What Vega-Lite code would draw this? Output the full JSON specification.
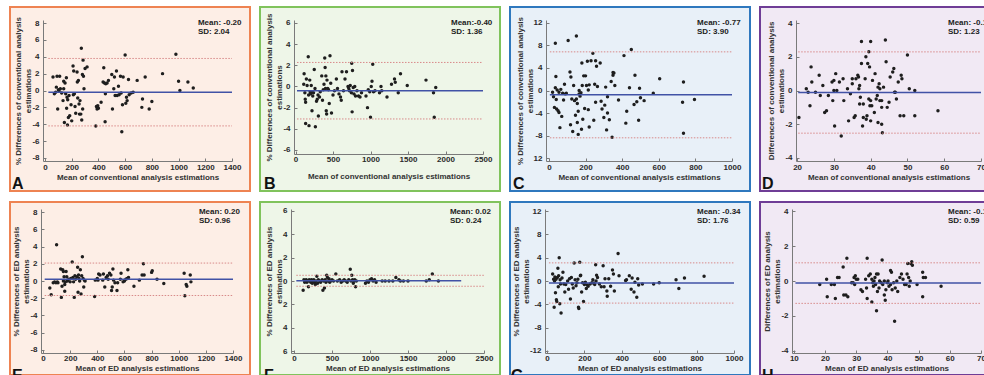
{
"$schema": "https://vega.github.io/schema/vega-lite/v6.json",
"background": "white",
"padding": {"left": 9, "top": 6, "right": 1, "bottom": 1},
"spacing": 9,
"config": {
 "font": "Liberation Sans",
 "axis": {"grid": false, "labelFont": "Liberation Sans", "labelFontSize": 8, "labelFontWeight": "bold", "labelColor": "#2a2a2a", "titleFont": "Liberation Sans", "titleFontSize": 8, "titleFontWeight": "bold", "titleColor": "#333333", "domainColor": "#7a7a7a", "tickColor": "#7a7a7a", "tickSize": -3, "domainWidth": 1, "labelPadding": 5, "titlePadding": 2, "labelFlush": false, "labelOverlap": false},
 "axisY": {"titlePadding": -1, "labelPadding": 7},
 "text": {"font": "Liberation Sans"},
 "concat": {"spacing": 8}
},
"datasets": {
 "stats": [
  {"p":"A","mean":-0.20,"up":3.80,"lo":-4.20,"note":"Mean: -0.20\nSD: 2.04","letter":"A"},
  {"p":"B","mean":-0.40,"up":2.27,"lo":-3.07,"note":"Mean:-0.40\nSD: 1.36","letter":"B"},
  {"p":"C","mean":-0.77,"up":6.87,"lo":-8.41,"note":"Mean: -0.77\nSD: 3.90","letter":"C"},
  {"p":"D","mean":-0.12,"up":2.29,"lo":-2.53,"note":"Mean: -0.12\nSD: 1.23","letter":"D"},
  {"p":"E","mean":0.20,"up":2.08,"lo":-1.68,"note":"Mean: 0.20\nSD: 0.96","letter":"E"},
  {"p":"F","mean":0.02,"up":0.49,"lo":-0.45,"note":"Mean: 0.02\nSD: 0.24","letter":"F"},
  {"p":"G","mean":-0.34,"up":3.11,"lo":-3.79,"note":"Mean: -0.34\nSD: 1.76","letter":"G"},
  {"p":"H","mean":-0.12,"up":1.04,"lo":-1.28,"note":"Mean: -0.12\nSD: 0.59","letter":"H"}
 ],
 "pA": [{"m":60,"d":1.6},{"m":70,"d":-0.4},{"m":80,"d":-0.2},{"m":85,"d":0.4},{"m":90,"d":1.7},{"m":95,"d":-2.2},{"m":100,"d":0.1},{"m":105,"d":-0.1},{"m":110,"d":1.7},{"m":115,"d":0.2},{"m":125,"d":-0.3},{"m":135,"d":-1.2},{"m":140,"d":1.1},{"m":140,"d":0.2},{"m":145,"d":-3.8},{"m":150,"d":0.9},{"m":155,"d":-0.4},{"m":160,"d":1.5},{"m":162,"d":-2.1},{"m":165,"d":-0.8},{"m":168,"d":-4.1},{"m":170,"d":-1.1},{"m":175,"d":-3.2},{"m":180,"d":-0.6},{"m":185,"d":-3.0},{"m":195,"d":-1.7},{"m":200,"d":-3.6},{"m":210,"d":2.9},{"m":212,"d":-0.5},{"m":215,"d":2.3},{"m":220,"d":-0.4},{"m":225,"d":-1.9},{"m":230,"d":-2.7},{"m":240,"d":2.2},{"m":242,"d":1.0},{"m":245,"d":-0.9},{"m":250,"d":1.2},{"m":255,"d":-1.6},{"m":258,"d":-2.8},{"m":262,"d":-1.2},{"m":268,"d":-2.8},{"m":272,"d":5.0},{"m":275,"d":-3.5},{"m":280,"d":1.9},{"m":282,"d":-2.2},{"m":285,"d":3.6},{"m":288,"d":1.7},{"m":292,"d":0.2},{"m":300,"d":2.6},{"m":315,"d":2.8},{"m":380,"d":-4.2},{"m":385,"d":-1.9},{"m":390,"d":-2.2},{"m":395,"d":-1.8},{"m":400,"d":-2.1},{"m":420,"d":-1.4},{"m":435,"d":1.0},{"m":440,"d":2.7},{"m":445,"d":0.9},{"m":450,"d":-3.7},{"m":452,"d":-0.4},{"m":455,"d":0.8},{"m":465,"d":0.9},{"m":475,"d":1.2},{"m":500,"d":1.9},{"m":505,"d":-2.2},{"m":515,"d":0.2},{"m":520,"d":1.6},{"m":525,"d":-0.6},{"m":535,"d":2.3},{"m":540,"d":-0.6},{"m":550,"d":0.5},{"m":555,"d":-0.5},{"m":565,"d":1.7},{"m":570,"d":-0.3},{"m":575,"d":-4.9},{"m":580,"d":-1.7},{"m":585,"d":1.6},{"m":600,"d":4.2},{"m":605,"d":-1.5},{"m":610,"d":-0.8},{"m":615,"d":-1.2},{"m":625,"d":1.3},{"m":630,"d":-0.5},{"m":645,"d":-0.3},{"m":660,"d":-0.2},{"m":690,"d":1.2},{"m":725,"d":-2.0},{"m":730,"d":-1.0},{"m":750,"d":1.6},{"m":780,"d":-2.2},{"m":800,"d":-1.3},{"m":880,"d":2.0},{"m":980,"d":4.3},{"m":1000,"d":1.1},{"m":1010,"d":0.0},{"m":1070,"d":1.0},{"m":1110,"d":0.3}],
 "pB": [{"m":110,"d":0.2},{"m":115,"d":1.2},{"m":125,"d":-0.6},{"m":130,"d":-1.2},{"m":135,"d":-1.5},{"m":135,"d":-3.5},{"m":145,"d":0.7},{"m":155,"d":0.1},{"m":170,"d":2.8},{"m":175,"d":-0.8},{"m":180,"d":-3.7},{"m":190,"d":0.6},{"m":195,"d":-0.5},{"m":200,"d":-0.7},{"m":210,"d":0.1},{"m":215,"d":-0.5},{"m":220,"d":-2.3},{"m":230,"d":-0.9},{"m":240,"d":-0.6},{"m":250,"d":1.6},{"m":260,"d":-0.2},{"m":265,"d":-3.8},{"m":280,"d":-1.4},{"m":290,"d":-1.2},{"m":300,"d":-0.8},{"m":305,"d":-2.8},{"m":320,"d":-1.0},{"m":330,"d":-0.5},{"m":350,"d":1.0},{"m":360,"d":-1.3},{"m":370,"d":-0.3},{"m":380,"d":0.2},{"m":390,"d":2.7},{"m":395,"d":1.8},{"m":400,"d":-0.2},{"m":405,"d":1.0},{"m":410,"d":-2.3},{"m":415,"d":-2.6},{"m":420,"d":0.6},{"m":430,"d":-0.2},{"m":440,"d":-0.3},{"m":450,"d":-1.6},{"m":460,"d":2.9},{"m":470,"d":0.3},{"m":480,"d":-2.5},{"m":500,"d":-0.8},{"m":520,"d":-0.4},{"m":545,"d":0.7},{"m":560,"d":-0.2},{"m":580,"d":-0.7},{"m":600,"d":-1.0},{"m":610,"d":-1.3},{"m":620,"d":1.4},{"m":640,"d":-0.4},{"m":660,"d":0.7},{"m":680,"d":1.4},{"m":700,"d":0.0},{"m":710,"d":-0.2},{"m":720,"d":-0.4},{"m":730,"d":0.1},{"m":745,"d":-0.6},{"m":750,"d":2.2},{"m":755,"d":-2.4},{"m":760,"d":1.5},{"m":770,"d":-0.1},{"m":780,"d":-0.7},{"m":790,"d":0.0},{"m":800,"d":-0.9},{"m":820,"d":-0.4},{"m":840,"d":-0.9},{"m":860,"d":-1.0},{"m":880,"d":-0.6},{"m":940,"d":-0.9},{"m":960,"d":-2.0},{"m":970,"d":-0.3},{"m":990,"d":-0.5},{"m":1000,"d":-2.9},{"m":1010,"d":0.0},{"m":1020,"d":0.5},{"m":1030,"d":2.1},{"m":1040,"d":-0.5},{"m":1060,"d":-0.4},{"m":1120,"d":-0.6},{"m":1140,"d":0.0},{"m":1150,"d":-0.4},{"m":1220,"d":-1.0},{"m":1280,"d":0.2},{"m":1320,"d":0.7},{"m":1330,"d":0.4},{"m":1370,"d":-0.6},{"m":1400,"d":1.2},{"m":1490,"d":0.1},{"m":1740,"d":0.6},{"m":1840,"d":-0.6},{"m":1850,"d":-2.9},{"m":1870,"d":-0.1}],
 "pC": [{"m":20,"d":-0.3},{"m":25,"d":-1.1},{"m":30,"d":-3.0},{"m":35,"d":8.4},{"m":35,"d":0.5},{"m":38,"d":2.5},{"m":40,"d":-1.6},{"m":42,"d":-3.3},{"m":45,"d":0.1},{"m":50,"d":-3.6},{"m":55,"d":-0.3},{"m":55,"d":-3.9},{"m":60,"d":-6.6},{"m":65,"d":0.2},{"m":70,"d":-4.6},{"m":75,"d":-0.5},{"m":80,"d":-1.7},{"m":85,"d":1.1},{"m":90,"d":-0.6},{"m":95,"d":-0.5},{"m":105,"d":8.9},{"m":115,"d":3.3},{"m":118,"d":-6.1},{"m":120,"d":2.4},{"m":125,"d":-1.5},{"m":130,"d":-7.3},{"m":135,"d":0.9},{"m":140,"d":-1.8},{"m":145,"d":-4.4},{"m":150,"d":9.7},{"m":150,"d":-1.5},{"m":155,"d":-5.7},{"m":155,"d":-2.3},{"m":160,"d":-7.8},{"m":160,"d":-3.7},{"m":165,"d":0.0},{"m":165,"d":-0.6},{"m":170,"d":-1.0},{"m":175,"d":-0.4},{"m":178,"d":-6.9},{"m":180,"d":4.9},{"m":182,"d":0.9},{"m":185,"d":-5.1},{"m":190,"d":2.6},{"m":195,"d":-3.2},{"m":200,"d":2.6},{"m":205,"d":0.9},{"m":210,"d":5.2},{"m":215,"d":-3.4},{"m":215,"d":0.1},{"m":220,"d":1.0},{"m":220,"d":-6.5},{"m":230,"d":5.3},{"m":240,"d":6.6},{"m":245,"d":-5.3},{"m":250,"d":1.1},{"m":255,"d":5.3},{"m":255,"d":-2.1},{"m":260,"d":4.3},{"m":265,"d":0.7},{"m":280,"d":4.9},{"m":285,"d":-1.9},{"m":290,"d":-3.3},{"m":300,"d":-4.8},{"m":305,"d":-2.6},{"m":310,"d":0.6},{"m":315,"d":-7.0},{"m":320,"d":-1.1},{"m":320,"d":-4.0},{"m":330,"d":-5.2},{"m":340,"d":1.6},{"m":345,"d":-8.3},{"m":350,"d":2.7},{"m":350,"d":3.2},{"m":355,"d":3.1},{"m":360,"d":0.9},{"m":380,"d":-1.7},{"m":410,"d":6.2},{"m":420,"d":-5.8},{"m":425,"d":-3.7},{"m":440,"d":0.5},{"m":450,"d":7.3},{"m":465,"d":-2.5},{"m":470,"d":2.7},{"m":480,"d":-2.0},{"m":490,"d":-5.3},{"m":495,"d":0.4},{"m":500,"d":-1.3},{"m":520,"d":-1.8},{"m":570,"d":-0.5},{"m":605,"d":2.1},{"m":730,"d":-2.1},{"m":735,"d":1.5},{"m":735,"d":-7.6},{"m":795,"d":-1.6}],
 "pD": [{"m":20.5,"d":-1.6},{"m":22.5,"d":0.1},{"m":23,"d":-0.1},{"m":23.5,"d":-0.9},{"m":23.8,"d":1.4},{"m":24,"d":0.5},{"m":25,"d":-0.1},{"m":26,"d":0.9},{"m":26.3,"d":-0.3},{"m":27,"d":0.3},{"m":27.5,"d":-1.3},{"m":28,"d":-1.2},{"m":28.5,"d":-0.3},{"m":29.5,"d":0.5},{"m":29.7,"d":-0.6},{"m":30,"d":0.6},{"m":30,"d":0.0},{"m":30.2,"d":-2.1},{"m":30.5,"d":1.0},{"m":30.8,"d":0.0},{"m":31.5,"d":0.5},{"m":32,"d":-2.7},{"m":32.5,"d":0.7},{"m":32.7,"d":-0.6},{"m":33.7,"d":0.1},{"m":34,"d":-1.8},{"m":34.5,"d":-0.2},{"m":35,"d":0.4},{"m":35,"d":0.7},{"m":35.5,"d":-1.6},{"m":35.8,"d":-1.5},{"m":36,"d":0.7},{"m":36.5,"d":0.9},{"m":36.7,"d":0.8},{"m":36.8,"d":0.1},{"m":37,"d":0.3},{"m":37,"d":-0.8},{"m":37.2,"d":-0.4},{"m":37.5,"d":2.9},{"m":37.5,"d":1.6},{"m":37.8,"d":-2.1},{"m":38,"d":-1.6},{"m":38,"d":-0.8},{"m":38.5,"d":0.7},{"m":38.7,"d":2.0},{"m":38.8,"d":-1.7},{"m":39,"d":-1.5},{"m":39.2,"d":1.6},{"m":39.5,"d":2.3},{"m":39.5,"d":-0.5},{"m":39.7,"d":1.4},{"m":39.8,"d":-0.9},{"m":40,"d":-1.8},{"m":40,"d":2.9},{"m":40,"d":-0.6},{"m":40.3,"d":-0.9},{"m":40.5,"d":0.6},{"m":41,"d":-1.3},{"m":41.2,"d":1.0},{"m":41.5,"d":-0.5},{"m":41.8,"d":-0.3},{"m":42,"d":-1.9},{"m":42,"d":0.2},{"m":42.3,"d":0.4},{"m":42.5,"d":0.1},{"m":42.5,"d":-0.6},{"m":43,"d":-1.0},{"m":43,"d":-2.0},{"m":43,"d":-0.6},{"m":43.2,"d":-2.5},{"m":43.5,"d":0.2},{"m":44,"d":3.0},{"m":44.2,"d":1.7},{"m":44.5,"d":-1.0},{"m":45,"d":-0.7},{"m":45.3,"d":0.8},{"m":46,"d":1.1},{"m":46.3,"d":1.3},{"m":46.5,"d":-0.1},{"m":46.7,"d":-0.1},{"m":47,"d":-0.5},{"m":47.5,"d":0.5},{"m":48,"d":-1.5},{"m":48.3,"d":0.9},{"m":48.5,"d":0.7},{"m":49,"d":-1.5},{"m":50,"d":2.1},{"m":50.5,"d":0.1},{"m":52,"d":0.0},{"m":52,"d":-1.5},{"m":58.3,"d":-1.2}],
 "pE": [{"m":50,"d":-0.8},{"m":60,"d":-1.6},{"m":75,"d":-0.2},{"m":85,"d":-0.1},{"m":95,"d":-0.2},{"m":100,"d":4.2},{"m":105,"d":-0.1},{"m":110,"d":-0.2},{"m":130,"d":1.4},{"m":135,"d":-1.9},{"m":140,"d":-0.6},{"m":145,"d":1.3},{"m":150,"d":0.0},{"m":150,"d":1.1},{"m":155,"d":0.5},{"m":160,"d":-0.4},{"m":160,"d":-1.2},{"m":165,"d":-0.1},{"m":170,"d":1.1},{"m":175,"d":0.5},{"m":180,"d":0.0},{"m":190,"d":0.2},{"m":200,"d":-0.1},{"m":205,"d":0.3},{"m":215,"d":2.2},{"m":220,"d":0.4},{"m":225,"d":-0.1},{"m":230,"d":-1.9},{"m":235,"d":0.6},{"m":240,"d":0.2},{"m":250,"d":0.5},{"m":255,"d":1.6},{"m":258,"d":-1.3},{"m":262,"d":0.7},{"m":265,"d":0.3},{"m":270,"d":0.0},{"m":275,"d":1.3},{"m":280,"d":-1.5},{"m":285,"d":0.6},{"m":290,"d":2.8},{"m":295,"d":0.3},{"m":300,"d":-0.7},{"m":305,"d":0.1},{"m":310,"d":0.0},{"m":380,"d":-1.8},{"m":385,"d":0.1},{"m":400,"d":0.3},{"m":405,"d":0.1},{"m":410,"d":0.8},{"m":420,"d":0.7},{"m":440,"d":0.1},{"m":445,"d":0.8},{"m":455,"d":-0.7},{"m":465,"d":0.4},{"m":475,"d":0.6},{"m":480,"d":0.2},{"m":490,"d":0.9},{"m":500,"d":0.7},{"m":505,"d":-1.1},{"m":510,"d":-0.7},{"m":515,"d":1.4},{"m":520,"d":0.1},{"m":530,"d":-0.2},{"m":545,"d":-1.1},{"m":550,"d":-0.2},{"m":570,"d":0.2},{"m":575,"d":0.9},{"m":590,"d":-0.1},{"m":600,"d":0.0},{"m":610,"d":0.2},{"m":620,"d":0.3},{"m":625,"d":1.3},{"m":630,"d":0.4},{"m":670,"d":-0.6},{"m":710,"d":0.1},{"m":730,"d":0.7},{"m":740,"d":2.0},{"m":745,"d":0.7},{"m":800,"d":1.0},{"m":805,"d":1.2},{"m":840,"d":0.2},{"m":890,"d":-0.3},{"m":1040,"d":0.9},{"m":1045,"d":-1.7},{"m":1055,"d":-0.4},{"m":1060,"d":-0.6},{"m":1085,"d":0.7},{"m":1090,"d":-0.1}],
 "pF": [{"m":120,"d":-0.8},{"m":130,"d":0.1},{"m":140,"d":-0.1},{"m":150,"d":0.0},{"m":160,"d":0.1},{"m":170,"d":-0.1},{"m":180,"d":0.0},{"m":190,"d":-0.5},{"m":200,"d":0.1},{"m":210,"d":0.0},{"m":220,"d":-0.1},{"m":230,"d":0.1},{"m":240,"d":-0.2},{"m":250,"d":0.0},{"m":260,"d":0.1},{"m":270,"d":-0.1},{"m":280,"d":-0.3},{"m":290,"d":0.0},{"m":300,"d":0.4},{"m":310,"d":-0.2},{"m":320,"d":0.1},{"m":340,"d":0.0},{"m":350,"d":-0.1},{"m":370,"d":0.1},{"m":380,"d":-0.8},{"m":390,"d":0.0},{"m":400,"d":-0.6},{"m":410,"d":0.1},{"m":420,"d":-0.1},{"m":430,"d":0.5},{"m":440,"d":0.3},{"m":450,"d":0.0},{"m":460,"d":0.2},{"m":470,"d":-0.1},{"m":480,"d":0.0},{"m":500,"d":0.1},{"m":520,"d":0.0},{"m":550,"d":0.6},{"m":570,"d":0.0},{"m":600,"d":0.1},{"m":620,"d":-0.1},{"m":640,"d":0.0},{"m":660,"d":0.1},{"m":680,"d":0.0},{"m":700,"d":-0.1},{"m":720,"d":0.1},{"m":740,"d":1.0},{"m":750,"d":0.0},{"m":760,"d":0.5},{"m":770,"d":0.1},{"m":780,"d":-0.2},{"m":790,"d":0.0},{"m":800,"d":0.1},{"m":810,"d":-0.5},{"m":820,"d":0.0},{"m":940,"d":-0.2},{"m":960,"d":0.0},{"m":980,"d":-0.1},{"m":1000,"d":0.1},{"m":1020,"d":0.2},{"m":1040,"d":0.0},{"m":1060,"d":0.1},{"m":1080,"d":-0.1},{"m":1160,"d":0.0},{"m":1200,"d":0.0},{"m":1250,"d":0.0},{"m":1300,"d":0.0},{"m":1340,"d":0.3},{"m":1380,"d":0.1},{"m":1400,"d":0.0},{"m":1440,"d":0.0},{"m":1500,"d":0.0},{"m":1740,"d":0.0},{"m":1780,"d":0.1},{"m":1820,"d":0.6},{"m":1900,"d":0.0}],
 "pG": [{"m":30,"d":1.2},{"m":35,"d":0.3},{"m":38,"d":-4.5},{"m":40,"d":0.0},{"m":42,"d":0.7},{"m":45,"d":-2.0},{"m":48,"d":0.3},{"m":50,"d":-3.2},{"m":52,"d":-3.5},{"m":55,"d":0.6},{"m":58,"d":2.2},{"m":60,"d":-1.0},{"m":62,"d":0.9},{"m":65,"d":4.0},{"m":68,"d":-3.9},{"m":70,"d":0.2},{"m":72,"d":-0.5},{"m":75,"d":-5.5},{"m":80,"d":0.5},{"m":85,"d":1.5},{"m":90,"d":-0.5},{"m":95,"d":-1.9},{"m":100,"d":-0.6},{"m":110,"d":0.0},{"m":115,"d":-1.4},{"m":120,"d":0.4},{"m":125,"d":-3.1},{"m":130,"d":0.6},{"m":135,"d":-0.5},{"m":140,"d":-1.2},{"m":145,"d":3.1},{"m":150,"d":0.2},{"m":155,"d":-0.8},{"m":160,"d":-0.3},{"m":165,"d":0.3},{"m":168,"d":-4.5},{"m":170,"d":-4.7},{"m":175,"d":3.2},{"m":178,"d":0.9},{"m":180,"d":1.0},{"m":185,"d":-1.9},{"m":190,"d":-0.3},{"m":195,"d":-3.5},{"m":200,"d":-0.6},{"m":205,"d":-0.2},{"m":210,"d":-1.3},{"m":215,"d":-0.7},{"m":220,"d":-0.9},{"m":230,"d":-0.5},{"m":240,"d":-0.3},{"m":245,"d":0.2},{"m":250,"d":-0.4},{"m":255,"d":-0.6},{"m":260,"d":2.8},{"m":262,"d":0.0},{"m":265,"d":1.0},{"m":270,"d":0.6},{"m":280,"d":-0.5},{"m":290,"d":-1.0},{"m":300,"d":2.6},{"m":305,"d":-1.0},{"m":310,"d":0.4},{"m":320,"d":-1.7},{"m":322,"d":-2.6},{"m":330,"d":0.4},{"m":340,"d":-0.9},{"m":350,"d":1.9},{"m":355,"d":1.2},{"m":360,"d":-1.7},{"m":380,"d":4.7},{"m":385,"d":0.9},{"m":420,"d":0.1},{"m":425,"d":0.2},{"m":440,"d":0.9},{"m":450,"d":-1.4},{"m":455,"d":0.5},{"m":465,"d":-1.9},{"m":470,"d":-0.2},{"m":480,"d":-2.8},{"m":485,"d":0.4},{"m":490,"d":-0.7},{"m":510,"d":-0.5},{"m":570,"d":-0.5},{"m":600,"d":-0.3},{"m":690,"d":0.2},{"m":705,"d":-1.3},{"m":735,"d":0.5},{"m":840,"d":0.8}],
 "pH": [{"m":18.3,"d":-0.2},{"m":20.5,"d":0.1},{"m":20.7,"d":-0.9},{"m":22,"d":-0.2},{"m":23,"d":-0.2},{"m":23.3,"d":-1.0},{"m":24,"d":0.2},{"m":24.5,"d":0.2},{"m":25.8,"d":0.8},{"m":26,"d":-0.8},{"m":26.7,"d":-0.8},{"m":27,"d":1.3},{"m":27.3,"d":-0.9},{"m":28.5,"d":-0.1},{"m":29,"d":-0.1},{"m":29.3,"d":0.2},{"m":29.5,"d":-0.2},{"m":29.7,"d":0.3},{"m":30,"d":0.1},{"m":30.5,"d":0.1},{"m":31.5,"d":-0.5},{"m":32,"d":-0.6},{"m":33,"d":0.1},{"m":33.3,"d":-0.4},{"m":33.5,"d":1.3},{"m":33.5,"d":-1.0},{"m":34,"d":0.3},{"m":34.5,"d":0.4},{"m":35,"d":-1.2},{"m":35,"d":0.1},{"m":35.3,"d":-0.1},{"m":35.5,"d":-0.3},{"m":35.7,"d":0.0},{"m":36,"d":0.2},{"m":36.2,"d":-0.2},{"m":36.5,"d":-1.7},{"m":36.5,"d":0.4},{"m":36.8,"d":-0.6},{"m":37,"d":0.4},{"m":37.3,"d":-0.4},{"m":37.5,"d":0.0},{"m":38,"d":-0.1},{"m":38.3,"d":1.2},{"m":38.5,"d":-0.2},{"m":39,"d":-0.8},{"m":39,"d":0.0},{"m":39.3,"d":-1.1},{"m":39.5,"d":-0.5},{"m":40,"d":-0.1},{"m":40.2,"d":0.0},{"m":40.5,"d":-0.3},{"m":41,"d":0.6},{"m":41,"d":-0.2},{"m":41.3,"d":0.5},{"m":41.5,"d":-0.5},{"m":42,"d":-0.1},{"m":42.3,"d":-2.3},{"m":42.5,"d":-0.4},{"m":43,"d":0.0},{"m":43.3,"d":-0.6},{"m":44,"d":0.2},{"m":44.5,"d":0.4},{"m":45,"d":0.1},{"m":45.5,"d":-0.2},{"m":46,"d":-0.2},{"m":46.3,"d":0.4},{"m":46.5,"d":1.0},{"m":46.8,"d":0.2},{"m":47,"d":-0.3},{"m":47.3,"d":0.0},{"m":47.5,"d":1.0},{"m":47.8,"d":1.1},{"m":48,"d":0.9},{"m":49.5,"d":-0.2},{"m":51.3,"d":0.5},{"m":51.3,"d":-0.9},{"m":51.5,"d":0.2},{"m":52.2,"d":0.2},{"m":57.2,"d":-0.3}]
},
"vconcat": [
 {"hconcat": [
  {"width": 240, "height": 184,
   "view": {"fill": "#fdeee6", "stroke": "#ee8352", "strokeWidth": 2},
   "layer": [
    {"data": {"name": "pA"}, "mark": {"type": "circle", "size": 12, "color": "#1e1e1e", "opacity": 1},
     "encoding": {
      "x": {"field": "m", "type": "quantitative", "scale": {"domain": [-15, 1400], "range": [33, 222], "nice": false, "zero": false}, "axis": {"values": [0,200,400,600,800,1000,1200,1400], "tickCount": 30, "labelOverlap": false, "labelExpr": "'' + datum.value", "offset": -30, "title": "Mean of conventional analysis estimations"}},
      "y": {"field": "d", "type": "quantitative", "scale": {"domain": [-8.36, 8.36], "range": [154, 13], "nice": false, "zero": false}, "axis": {"values": [-8,-6,-4,-2,0,2,4,6,8], "tickCount": 30, "labelOverlap": false, "labelExpr": "'' + datum.value", "offset": -33, "title": ["% Differences of conventional analysis", "estimations"]}}}},
    {"data": {"name": "stats"}, "transform": [{"filter": "datum.p == 'A'"}], "mark": {"type": "rule", "color": "#d88a8a", "strokeWidth": 1, "strokeDash": [1.5, 1.5]}, "encoding": {"x": {"datum": 25, "type": "quantitative"}, "x2": {"datum": 1400}, "y": {"field": "up", "type": "quantitative"}}},
    {"data": {"name": "stats"}, "transform": [{"filter": "datum.p == 'A'"}], "mark": {"type": "rule", "color": "#d88a8a", "strokeWidth": 1, "strokeDash": [1.5, 1.5]}, "encoding": {"x": {"datum": 25, "type": "quantitative"}, "x2": {"datum": 1400}, "y": {"field": "lo", "type": "quantitative"}}},
    {"data": {"name": "stats"}, "transform": [{"filter": "datum.p == 'A'"}], "mark": {"type": "rule", "color": "#4152a6", "strokeWidth": 1.5}, "encoding": {"x": {"datum": 25, "type": "quantitative"}, "x2": {"datum": 1400}, "y": {"field": "mean", "type": "quantitative"}}},
    {"data": {"name": "stats"}, "transform": [{"filter": "datum.p == 'A'"}], "mark": {"type": "text", "align": "left", "baseline": "top", "lineBreak": "\n", "lineHeight": 9, "fontSize": 8, "fontWeight": "bold", "color": "#222222", "clip": true}, "encoding": {"text": {"field": "note"}, "x": {"datum": 1145, "type": "quantitative"}, "y": {"datum": 8.48, "type": "quantitative"}}},
    {"data": {"name": "stats"}, "transform": [{"filter": "datum.p == 'A'"}], "mark": {"type": "text", "align": "left", "baseline": "alphabetic", "fontSize": 16, "fontWeight": "bold", "color": "#111111", "clip": true}, "encoding": {"text": {"field": "letter"}, "x": {"datum": -247, "type": "quantitative"}, "y": {"datum": -11.68, "type": "quantitative"}}}
   ]},
  {"width": 240, "height": 184,
   "view": {"fill": "#eef6e8", "stroke": "#80c35c", "strokeWidth": 2},
   "layer": [
    {"data": {"name": "pB"}, "mark": {"type": "circle", "size": 12, "color": "#1e1e1e", "opacity": 1},
     "encoding": {
      "x": {"field": "m", "type": "quantitative", "scale": {"domain": [-20, 2500], "range": [34, 223], "nice": false, "zero": false}, "axis": {"values": [0,500,1000,1500,2000,2500], "tickCount": 30, "labelOverlap": false, "labelExpr": "'' + datum.value", "offset": -37, "labelPadding": 4, "titlePadding": 9, "title": "Mean of conventional analysis estimations"}},
      "y": {"field": "d", "type": "quantitative", "scale": {"domain": [-6.38, 6.28], "range": [147, 13], "nice": false, "zero": false}, "axis": {"values": [-6,-4,-2,0,2,4,6], "tickCount": 30, "labelOverlap": false, "labelExpr": "'' + datum.value", "offset": -34, "title": ["% Differences of conventional analysis", "estimations"]}}}},
    {"data": {"name": "stats"}, "transform": [{"filter": "datum.p == 'B'"}], "mark": {"type": "rule", "color": "#d88a8a", "strokeWidth": 1, "strokeDash": [1.5, 1.5]}, "encoding": {"x": {"datum": 20, "type": "quantitative"}, "x2": {"datum": 2500}, "y": {"field": "up", "type": "quantitative"}}},
    {"data": {"name": "stats"}, "transform": [{"filter": "datum.p == 'B'"}], "mark": {"type": "rule", "color": "#d88a8a", "strokeWidth": 1, "strokeDash": [1.5, 1.5]}, "encoding": {"x": {"datum": 20, "type": "quantitative"}, "x2": {"datum": 2500}, "y": {"field": "lo", "type": "quantitative"}}},
    {"data": {"name": "stats"}, "transform": [{"filter": "datum.p == 'B'"}], "mark": {"type": "rule", "color": "#4152a6", "strokeWidth": 1.5}, "encoding": {"x": {"datum": 20, "type": "quantitative"}, "x2": {"datum": 2500}, "y": {"field": "mean", "type": "quantitative"}}},
    {"data": {"name": "stats"}, "transform": [{"filter": "datum.p == 'B'"}], "mark": {"type": "text", "align": "left", "baseline": "top", "lineBreak": "\n", "lineHeight": 9, "fontSize": 8, "fontWeight": "bold", "color": "#222222", "clip": true}, "encoding": {"text": {"field": "note"}, "x": {"datum": 2073, "type": "quantitative"}, "y": {"datum": 6.375, "type": "quantitative"}}},
    {"data": {"name": "stats"}, "transform": [{"filter": "datum.p == 'B'"}], "mark": {"type": "text", "align": "left", "baseline": "alphabetic", "fontSize": 16, "fontWeight": "bold", "color": "#111111", "clip": true}, "encoding": {"text": {"field": "letter"}, "x": {"datum": -420, "type": "quantitative"}, "y": {"datum": -9.69, "type": "quantitative"}}}
   ]},
  {"width": 240, "height": 184,
   "view": {"fill": "#e8f0f8", "stroke": "#2f78be", "strokeWidth": 2},
   "layer": [
    {"data": {"name": "pC"}, "mark": {"type": "circle", "size": 12, "color": "#1e1e1e", "opacity": 1},
     "encoding": {
      "x": {"field": "m", "type": "quantitative", "scale": {"domain": [-16, 1000], "range": [36, 222], "nice": false, "zero": false}, "axis": {"values": [0,200,400,600,800,1000], "tickCount": 30, "labelOverlap": false, "labelExpr": "'' + datum.value", "offset": -30, "title": "Mean of conventional analysis estimations"}},
      "y": {"field": "d", "type": "quantitative", "scale": {"domain": [-12.53, 12.53], "range": [154, 13], "nice": false, "zero": false}, "axis": {"values": [-12,-8,-4,0,4,8,12], "tickCount": 30, "labelOverlap": false, "labelExpr": "datum.value == -12 ? '12' : '' + datum.value", "offset": -36, "title": ["% Differences of conventional analysis", "estimations"]}}}},
    {"data": {"name": "stats"}, "transform": [{"filter": "datum.p == 'C'"}], "mark": {"type": "rule", "color": "#d88a8a", "strokeWidth": 1, "strokeDash": [1.5, 1.5]}, "encoding": {"x": {"datum": 5, "type": "quantitative"}, "x2": {"datum": 1000}, "y": {"field": "up", "type": "quantitative"}}},
    {"data": {"name": "stats"}, "transform": [{"filter": "datum.p == 'C'"}], "mark": {"type": "rule", "color": "#d88a8a", "strokeWidth": 1, "strokeDash": [1.5, 1.5]}, "encoding": {"x": {"datum": 5, "type": "quantitative"}, "x2": {"datum": 1000}, "y": {"field": "lo", "type": "quantitative"}}},
    {"data": {"name": "stats"}, "transform": [{"filter": "datum.p == 'C'"}], "mark": {"type": "rule", "color": "#4152a6", "strokeWidth": 1.5}, "encoding": {"x": {"datum": 5, "type": "quantitative"}, "x2": {"datum": 1000}, "y": {"field": "mean", "type": "quantitative"}}},
    {"data": {"name": "stats"}, "transform": [{"filter": "datum.p == 'C'"}], "mark": {"type": "text", "align": "left", "baseline": "top", "lineBreak": "\n", "lineHeight": 9, "fontSize": 8, "fontWeight": "bold", "color": "#222222", "clip": true}, "encoding": {"text": {"field": "note"}, "x": {"datum": 809, "type": "quantitative"}, "y": {"datum": 12.71, "type": "quantitative"}}},
    {"data": {"name": "stats"}, "transform": [{"filter": "datum.p == 'C'"}], "mark": {"type": "text", "align": "left", "baseline": "alphabetic", "fontSize": 16, "fontWeight": "bold", "color": "#111111", "clip": true}, "encoding": {"text": {"field": "letter"}, "x": {"datum": -196, "type": "quantitative"}, "y": {"datum": -17.51, "type": "quantitative"}}}
   ]},
  {"width": 228, "height": 184,
   "view": {"fill": "#f1e9f4", "stroke": "#6f3d96", "strokeWidth": 2},
   "layer": [
    {"data": {"name": "pD"}, "mark": {"type": "circle", "size": 12, "color": "#1e1e1e", "opacity": 1},
     "encoding": {
      "x": {"field": "m", "type": "quantitative", "scale": {"domain": [19.7, 70], "range": [36, 221], "nice": false, "zero": false}, "axis": {"values": [20,30,40,50,60,70], "tickCount": 30, "labelOverlap": false, "labelExpr": "'' + datum.value", "offset": -30, "title": "Mean of conventional analysis estimations"}},
      "y": {"field": "d", "type": "quantitative", "scale": {"domain": [-4.18, 4.18], "range": [154, 13], "nice": false, "zero": false}, "axis": {"values": [-4,-2,0,2,4], "tickCount": 30, "labelOverlap": false, "labelExpr": "'' + datum.value", "offset": -36, "title": ["Differences of conventional analysis", "estimations"]}}}},
    {"data": {"name": "stats"}, "transform": [{"filter": "datum.p == 'D'"}], "mark": {"type": "rule", "color": "#d88a8a", "strokeWidth": 1, "strokeDash": [1.5, 1.5]}, "encoding": {"x": {"datum": 20.3, "type": "quantitative"}, "x2": {"datum": 70}, "y": {"field": "up", "type": "quantitative"}}},
    {"data": {"name": "stats"}, "transform": [{"filter": "datum.p == 'D'"}], "mark": {"type": "rule", "color": "#d88a8a", "strokeWidth": 1, "strokeDash": [1.5, 1.5]}, "encoding": {"x": {"datum": 20.3, "type": "quantitative"}, "x2": {"datum": 70}, "y": {"field": "lo", "type": "quantitative"}}},
    {"data": {"name": "stats"}, "transform": [{"filter": "datum.p == 'D'"}], "mark": {"type": "rule", "color": "#4152a6", "strokeWidth": 1.5}, "encoding": {"x": {"datum": 20.3, "type": "quantitative"}, "x2": {"datum": 70}, "y": {"field": "mean", "type": "quantitative"}}},
    {"data": {"name": "stats"}, "transform": [{"filter": "datum.p == 'D'"}], "mark": {"type": "text", "align": "left", "baseline": "top", "lineBreak": "\n", "lineHeight": 9, "fontSize": 8, "fontWeight": "bold", "color": "#222222", "clip": true}, "encoding": {"text": {"field": "note"}, "x": {"datum": 61.03, "type": "quantitative"}, "y": {"datum": 4.24, "type": "quantitative"}}},
    {"data": {"name": "stats"}, "transform": [{"filter": "datum.p == 'D'"}], "mark": {"type": "text", "align": "left", "baseline": "alphabetic", "fontSize": 16, "fontWeight": "bold", "color": "#111111", "clip": true}, "encoding": {"text": {"field": "letter"}, "x": {"datum": 10.46, "type": "quantitative"}, "y": {"datum": -5.84, "type": "quantitative"}}}
   ]}
 ]},
 {"hconcat": [
  {"width": 240, "height": 173,
   "view": {"fill": "#fdeee6", "stroke": "#ee8352", "strokeWidth": 2},
   "layer": [
    {"data": {"name": "pE"}, "mark": {"type": "circle", "size": 12, "color": "#1e1e1e", "opacity": 1},
     "encoding": {
      "x": {"field": "m", "type": "quantitative", "scale": {"domain": [-15, 1400], "range": [31, 223], "nice": false, "zero": false}, "axis": {"values": [0,200,400,600,800,1000,1200,1400], "tickCount": 30, "labelOverlap": false, "labelExpr": "'' + datum.value", "offset": -22, "labelPadding": 4, "title": "Mean of ED analysis estimations"}},
      "y": {"field": "d", "type": "quantitative", "scale": {"domain": [-8.35, 8.35], "range": [151, 7], "nice": false, "zero": false}, "axis": {"values": [-8,-6,-4,-2,0,2,4,6,8], "tickCount": 30, "labelOverlap": false, "labelExpr": "'' + datum.value", "offset": -31, "title": ["% Differences of ED analysis", "estimations"]}}}},
    {"data": {"name": "stats"}, "transform": [{"filter": "datum.p == 'E'"}], "mark": {"type": "rule", "color": "#d88a8a", "strokeWidth": 1, "strokeDash": [1.5, 1.5]}, "encoding": {"x": {"datum": 12, "type": "quantitative"}, "x2": {"datum": 1400}, "y": {"field": "up", "type": "quantitative"}}},
    {"data": {"name": "stats"}, "transform": [{"filter": "datum.p == 'E'"}], "mark": {"type": "rule", "color": "#d88a8a", "strokeWidth": 1, "strokeDash": [1.5, 1.5]}, "encoding": {"x": {"datum": 12, "type": "quantitative"}, "x2": {"datum": 1400}, "y": {"field": "lo", "type": "quantitative"}}},
    {"data": {"name": "stats"}, "transform": [{"filter": "datum.p == 'E'"}], "mark": {"type": "rule", "color": "#4152a6", "strokeWidth": 1.5}, "encoding": {"x": {"datum": 12, "type": "quantitative"}, "x2": {"datum": 1400}, "y": {"field": "mean", "type": "quantitative"}}},
    {"data": {"name": "stats"}, "transform": [{"filter": "datum.p == 'E'"}], "mark": {"type": "text", "align": "left", "baseline": "top", "lineBreak": "\n", "lineHeight": 9, "fontSize": 8, "fontWeight": "bold", "color": "#222222", "clip": true}, "encoding": {"text": {"field": "note"}, "x": {"datum": 1149, "type": "quantitative"}, "y": {"datum": 8.47, "type": "quantitative"}}},
    {"data": {"name": "stats"}, "transform": [{"filter": "datum.p == 'E'"}], "mark": {"type": "text", "align": "left", "baseline": "alphabetic", "fontSize": 16, "fontWeight": "bold", "color": "#111111", "clip": true}, "encoding": {"text": {"field": "letter"}, "x": {"datum": -229, "type": "quantitative"}, "y": {"datum": -11.6, "type": "quantitative"}}}
   ]},
  {"width": 240, "height": 173,
   "view": {"fill": "#eef6e8", "stroke": "#80c35c", "strokeWidth": 2},
   "layer": [
    {"data": {"name": "pF"}, "mark": {"type": "circle", "size": 12, "color": "#1e1e1e", "opacity": 1},
     "encoding": {
      "x": {"field": "m", "type": "quantitative", "scale": {"domain": [-40, 2500], "range": [31, 224], "nice": false, "zero": false}, "axis": {"values": [0,500,1000,1500,2000,2500], "tickCount": 30, "labelOverlap": false, "labelExpr": "'' + datum.value", "offset": -22, "labelPadding": 4, "title": "Mean of ED analysis estimations"}},
      "y": {"field": "d", "type": "quantitative", "scale": {"domain": [-6.17, 6.17], "range": [151, 7], "nice": false, "zero": false}, "axis": {"values": [-6,-4,-2,0,2,4,6], "tickCount": 30, "labelOverlap": false, "labelExpr": "'' + abs(datum.value)", "offset": -31, "title": ["% Differences of ED analysis", "estimations"]}}}},
    {"data": {"name": "stats"}, "transform": [{"filter": "datum.p == 'F'"}], "mark": {"type": "rule", "color": "#d88a8a", "strokeWidth": 1, "strokeDash": [1.5, 1.5]}, "encoding": {"x": {"datum": 30, "type": "quantitative"}, "x2": {"datum": 2500}, "y": {"field": "up", "type": "quantitative"}}},
    {"data": {"name": "stats"}, "transform": [{"filter": "datum.p == 'F'"}], "mark": {"type": "rule", "color": "#d88a8a", "strokeWidth": 1, "strokeDash": [1.5, 1.5]}, "encoding": {"x": {"datum": 30, "type": "quantitative"}, "x2": {"datum": 2500}, "y": {"field": "lo", "type": "quantitative"}}},
    {"data": {"name": "stats"}, "transform": [{"filter": "datum.p == 'F'"}], "mark": {"type": "rule", "color": "#4152a6", "strokeWidth": 1.5}, "encoding": {"x": {"datum": 30, "type": "quantitative"}, "x2": {"datum": 2200}, "y": {"field": "mean", "type": "quantitative"}}},
    {"data": {"name": "stats"}, "transform": [{"filter": "datum.p == 'F'"}], "mark": {"type": "text", "align": "left", "baseline": "top", "lineBreak": "\n", "lineHeight": 9, "fontSize": 8, "fontWeight": "bold", "color": "#222222", "clip": true}, "encoding": {"text": {"field": "note"}, "x": {"datum": 2052, "type": "quantitative"}, "y": {"datum": 6.255, "type": "quantitative"}}},
    {"data": {"name": "stats"}, "transform": [{"filter": "datum.p == 'F'"}], "mark": {"type": "text", "align": "left", "baseline": "alphabetic", "fontSize": 16, "fontWeight": "bold", "color": "#111111", "clip": true}, "encoding": {"text": {"field": "letter"}, "x": {"datum": -395, "type": "quantitative"}, "y": {"datum": -8.57, "type": "quantitative"}}}
   ]},
  {"width": 240, "height": 173,
   "view": {"fill": "#e8f0f8", "stroke": "#2f78be", "strokeWidth": 2},
   "layer": [
    {"data": {"name": "pG"}, "mark": {"type": "circle", "size": 12, "color": "#1e1e1e", "opacity": 1},
     "encoding": {
      "x": {"field": "m", "type": "quantitative", "scale": {"domain": [-11, 1000], "range": [35, 224], "nice": false, "zero": false}, "axis": {"values": [0,200,400,600,800,1000], "tickCount": 30, "labelOverlap": false, "labelExpr": "'' + datum.value", "offset": -22, "labelPadding": 4, "title": "Mean of ED analysis estimations"}},
      "y": {"field": "d", "type": "quantitative", "scale": {"domain": [-12.35, 12.35], "range": [151, 7], "nice": false, "zero": false}, "axis": {"values": [-12,-8,-4,0,4,8,12], "tickCount": 30, "labelOverlap": false, "labelExpr": "'' + datum.value", "offset": -35, "title": ["% Differences of ED analysis", "estimations"]}}}},
    {"data": {"name": "stats"}, "transform": [{"filter": "datum.p == 'G'"}], "mark": {"type": "rule", "color": "#d88a8a", "strokeWidth": 1, "strokeDash": [1.5, 1.5]}, "encoding": {"x": {"datum": 10, "type": "quantitative"}, "x2": {"datum": 1000}, "y": {"field": "up", "type": "quantitative"}}},
    {"data": {"name": "stats"}, "transform": [{"filter": "datum.p == 'G'"}], "mark": {"type": "rule", "color": "#d88a8a", "strokeWidth": 1, "strokeDash": [1.5, 1.5]}, "encoding": {"x": {"datum": 10, "type": "quantitative"}, "x2": {"datum": 1000}, "y": {"field": "lo", "type": "quantitative"}}},
    {"data": {"name": "stats"}, "transform": [{"filter": "datum.p == 'G'"}], "mark": {"type": "rule", "color": "#4152a6", "strokeWidth": 1.5}, "encoding": {"x": {"datum": 10, "type": "quantitative"}, "x2": {"datum": 1000}, "y": {"field": "mean", "type": "quantitative"}}},
    {"data": {"name": "stats"}, "transform": [{"filter": "datum.p == 'G'"}], "mark": {"type": "text", "align": "left", "baseline": "top", "lineBreak": "\n", "lineHeight": 9, "fontSize": 8, "fontWeight": "bold", "color": "#222222", "clip": true}, "encoding": {"text": {"field": "note"}, "x": {"datum": 802, "type": "quantitative"}, "y": {"datum": 12.52, "type": "quantitative"}}},
    {"data": {"name": "stats"}, "transform": [{"filter": "datum.p == 'G'"}], "mark": {"type": "text", "align": "left", "baseline": "alphabetic", "fontSize": 16, "fontWeight": "bold", "color": "#111111", "clip": true}, "encoding": {"text": {"field": "letter"}, "x": {"datum": -193, "type": "quantitative"}, "y": {"datum": -17.15, "type": "quantitative"}}}
   ]},
  {"width": 228, "height": 173,
   "view": {"fill": "#f1e9f4", "stroke": "#6f3d96", "strokeWidth": 2},
   "layer": [
    {"data": {"name": "pH"}, "mark": {"type": "circle", "size": 12, "color": "#1e1e1e", "opacity": 1},
     "encoding": {
      "x": {"field": "m", "type": "quantitative", "scale": {"domain": [9.4, 70], "range": [32, 221], "nice": false, "zero": false}, "axis": {"values": [10,20,30,40,50,60,70], "tickCount": 30, "labelOverlap": false, "labelExpr": "'' + datum.value", "offset": -22, "labelPadding": 4, "title": "Mean of ED analysis estimations"}},
      "y": {"field": "d", "type": "quantitative", "scale": {"domain": [-4.12, 4.12], "range": [151, 7], "nice": false, "zero": false}, "axis": {"values": [-4,-2,0,2,4], "tickCount": 30, "labelOverlap": false, "labelExpr": "'' + datum.value", "offset": -32, "title": ["Differences of ED analysis", "estimations"]}}}},
    {"data": {"name": "stats"}, "transform": [{"filter": "datum.p == 'H'"}], "mark": {"type": "rule", "color": "#d88a8a", "strokeWidth": 1, "strokeDash": [1.5, 1.5]}, "encoding": {"x": {"datum": 10.5, "type": "quantitative"}, "x2": {"datum": 70}, "y": {"field": "up", "type": "quantitative"}}},
    {"data": {"name": "stats"}, "transform": [{"filter": "datum.p == 'H'"}], "mark": {"type": "rule", "color": "#d88a8a", "strokeWidth": 1, "strokeDash": [1.5, 1.5]}, "encoding": {"x": {"datum": 10.5, "type": "quantitative"}, "x2": {"datum": 70}, "y": {"field": "lo", "type": "quantitative"}}},
    {"data": {"name": "stats"}, "transform": [{"filter": "datum.p == 'H'"}], "mark": {"type": "rule", "color": "#4152a6", "strokeWidth": 1.5}, "encoding": {"x": {"datum": 10.5, "type": "quantitative"}, "x2": {"datum": 70}, "y": {"field": "mean", "type": "quantitative"}}},
    {"data": {"name": "stats"}, "transform": [{"filter": "datum.p == 'H'"}], "mark": {"type": "text", "align": "left", "baseline": "top", "lineBreak": "\n", "lineHeight": 9, "fontSize": 8, "fontWeight": "bold", "color": "#222222", "clip": true}, "encoding": {"text": {"field": "note"}, "x": {"datum": 59.42, "type": "quantitative"}, "y": {"datum": 4.18, "type": "quantitative"}}},
    {"data": {"name": "stats"}, "transform": [{"filter": "datum.p == 'H'"}], "mark": {"type": "text", "align": "left", "baseline": "alphabetic", "fontSize": 16, "fontWeight": "bold", "color": "#111111", "clip": true}, "encoding": {"text": {"field": "letter"}, "x": {"datum": -0.22, "type": "quantitative"}, "y": {"datum": -5.72, "type": "quantitative"}}}
   ]}
 ]}
]
}
